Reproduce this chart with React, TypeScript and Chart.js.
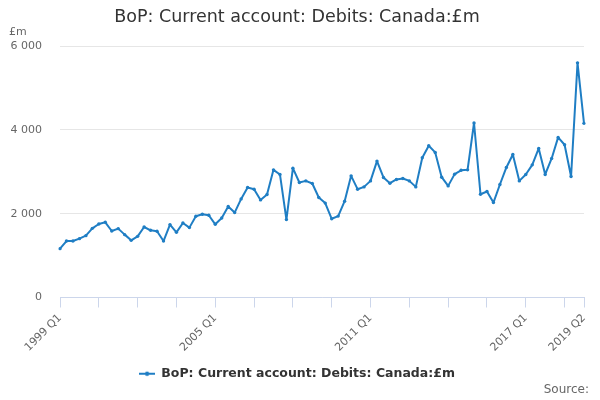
import React, { useEffect, useRef } from "react";
import { Chart, registerables } from "chart.js";

Chart.register(...registerables);

const startYear = 1999;
const quarterLabels: string[] = [];
for (let i = 0; i < 82; i++) {
  quarterLabels.push(`${startYear + Math.floor(i / 4)} Q${(i % 4) + 1}`);
}

const debitsCanada: number[] = [
  1165, 1347, 1347, 1404, 1476, 1650, 1754, 1794, 1586, 1643,
  1500, 1364, 1459, 1682, 1603, 1579, 1347, 1739, 1555, 1778,
  1667, 1940, 1985, 1962, 1746, 1897, 2170, 2026, 2352, 2624,
  2584, 2328, 2457, 3045, 2935, 1859, 3086, 2744, 2782, 2720,
  2385, 2252, 1878, 1942, 2297, 2902, 2584, 2639, 2782, 3254,
  2864, 2727, 2816, 2840, 2782, 2639, 3333, 3620, 3461, 2870,
  2663, 2943, 3035, 3045, 4163, 2464, 2528, 2265, 2695, 3102,
  3413, 2782, 2935, 3165, 3557, 2935, 3318, 3820, 3644, 2887,
  5598, 4155,
];

const shownLabels: string[] = ["1999 Q1", "2005 Q1", "2011 Q1", "2017 Q1", "2019 Q2"];
const yTicks: number[] = [0, 2000, 4000, 6000];

const seriesName = "BoP: Current account: Debits: Canada:£m";
const titleText = "BoP: Current account: Debits: Canada:£m";
const unitText = "£m";
const sourceText = "Source:";

const LINE_COLOR = "#1f7ec4";
const FONT = "'DejaVu Sans', sans-serif";

function makeLegendSymbol(): HTMLCanvasElement {
  const c = document.createElement("canvas");
  c.width = 16;
  c.height = 8;
  const g = c.getContext("2d")!;
  g.strokeStyle = LINE_COLOR;
  g.lineWidth = 2;
  g.beginPath();
  g.moveTo(0, 4);
  g.lineTo(16, 4);
  g.stroke();
  g.fillStyle = LINE_COLOR;
  g.beginPath();
  g.arc(8, 4, 2.2, 0, Math.PI * 2);
  g.fill();
  return c;
}

function fmt(v: number): string {
  return String(v).replace(/\B(?=(\d{3})+(?!\d))/g, " ");
}

const extraText = {
  id: "extraText",
  afterDraw(chart: any) {
    const ctx = chart.ctx;
    ctx.save();
    ctx.fillStyle = "#666666";
    ctx.font = `11px ${FONT}`;
    ctx.textAlign = "left";
    ctx.textBaseline = "middle";
    ctx.fillText(unitText, 9, 32);
    ctx.font = `12px ${FONT}`;
    ctx.textAlign = "right";
    ctx.fillText(sourceText, 589, 390);
    ctx.restore();
  },
};

export default function App() {
  const ref = useRef<HTMLCanvasElement | null>(null);
  useEffect(() => {
    if (!ref.current) return;
    const symbol = makeLegendSymbol();
    const chart = new Chart(ref.current, {
      type: "line",
      data: {
        labels: quarterLabels,
        datasets: [
          {
            label: seriesName,
            data: debitsCanada,
            borderColor: LINE_COLOR,
            backgroundColor: LINE_COLOR,
            borderWidth: 2,
            borderJoinStyle: "round",
            pointRadius: 1.7,
            pointHoverRadius: 1.7,
            pointBorderWidth: 0,
            pointStyle: "circle",
            tension: 0,
          },
        ],
      },
      options: {
        animation: false,
        responsive: false,
        maintainAspectRatio: false,
        layout: { padding: { left: 10, right: 16, top: 0, bottom: 10 } },
        plugins: {
          title: {
            display: true,
            text: titleText,
            color: "#333333",
            font: { family: FONT, size: 17.5, weight: "normal" },
            padding: { top: 7, bottom: 18 },
          },
          legend: {
            position: "bottom",
            labels: {
              usePointStyle: true,
              pointStyle: symbol as any,
              pointStyleWidth: 16,
              color: "#333333",
              font: { family: FONT, size: 12.5, weight: "bold" },
              padding: 10,
              generateLabels: () => [
                {
                  text: seriesName,
                  fillStyle: LINE_COLOR,
                  strokeStyle: LINE_COLOR,
                  pointStyle: symbol,
                  lineWidth: 0,
                  datasetIndex: 0,
                  hidden: false,
                  fontColor: "#333333",
                },
              ],
            },
          },
          tooltip: { enabled: false },
        },
        scales: {
          x: {
            type: "category",
            offset: false,
            border: { display: true, color: "#ccd6eb", width: 1 },
            grid: {
              drawOnChartArea: false,
              drawTicks: true,
              tickLength: 10,
              color: "#ccd6eb",
            },
            ticks: {
              autoSkip: false,
              minRotation: 45,
              maxRotation: 45,
              padding: 4,
              color: "#666666",
              font: { family: FONT, size: 11 },
              callback: (_v: any, index: number) => {
                if (index % 6 !== 0 && index !== quarterLabels.length - 1) return null;
                const l = quarterLabels[index];
                return shownLabels.includes(l) ? l : "";
              },
            },
            afterFit: (scale: any) => {
              scale.height = 60;
            },
          },
          y: {
            min: 0,
            max: 6000,
            border: { display: false },
            grid: { color: "#e6e6e6", lineWidth: 1, drawTicks: false },
            afterBuildTicks: (scale: any) => {
              scale.ticks = yTicks.map((v) => ({ value: v }));
            },
            ticks: {
              padding: 18,
              color: "#666666",
              font: { family: FONT, size: 11 },
              callback: (v: any) => fmt(Number(v)),
            },
            afterFit: (scale: any) => {
              scale.width = 50;
            },
          },
        },
      },
      plugins: [extraText],
    });
    return () => chart.destroy();
  }, []);
  return (
    <div style={{ position: "fixed", left: 0, top: 0, width: 600, height: 400, background: "#fff" }}>
      <canvas ref={ref} width={600} height={400} style={{ width: 600, height: 400 }} />
    </div>
  );
}
